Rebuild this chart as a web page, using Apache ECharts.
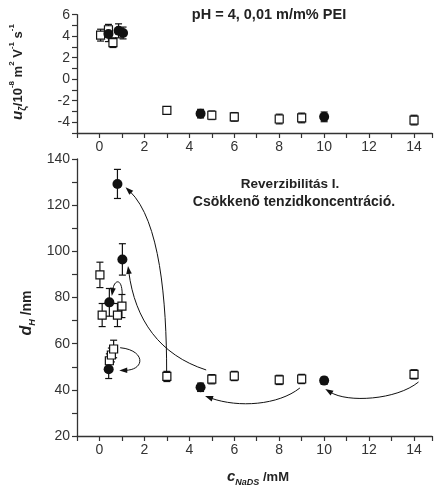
<!DOCTYPE html>
<html><head><meta charset="utf-8">
<script src="https://cdn.jsdelivr.net/npm/echarts@6/dist/echarts.min.js"></script>
<style>html,body{margin:0;padding:0;background:#fff}#c{width:435px;height:487px}</style>
</head><body><div id="c"></div>
<script>
// ---- Top panel: electrophoretic mobility u_zeta (10^-8 m2 V-1 s-1)
const topSqX   = [0.05, 0.4, 0.6, 3, 5, 6, 8, 9, 14];
const topSqY   = [4.1, 4.6, 3.4, -2.9, -3.35, -3.5, -3.7, -3.6, -3.8];
const topSqErr = [0.55, 0.5, 0.45, 0.35, 0.4, 0.4, 0.45, 0.45, 0.45];
const topCiX   = [0.4, 0.85, 1.05, 4.5, 10];
const topCiY   = [4.2, 4.5, 4.3, -3.2, -3.5];
const topCiErr = [0.7, 0.65, 0.55, 0.4, 0.45];
// ---- Bottom panel: hydrodynamic diameter d_H (nm)
const botSqX   = [0.02, 0.12, 0.44, 0.53, 0.63, 0.8, 1.0, 3, 5, 6, 8, 9, 14];
const botSqY   = [89.8, 72.4, 52.6, 55.1, 57.7, 72.4, 76.3, 45.8, 44.6, 46.0, 44.3, 44.7, 46.7];
const botSqErr = [5.5, 5, 3, 3, 3.8, 5, 5, 2.2, 2, 2, 2, 2, 2];
const botCiX   = [0.41, 0.44, 0.8, 1.02, 4.5, 10];
const botCiY   = [48.9, 77.9, 129.2, 96.5, 41.1, 44.0];
const botCiErr = [4, 6, 6.3, 6.8, 1.8, 1.5];
// ---- Arrows (cubic curves in data units: start, control1, control2, end)
const arrows = [
  [[2.99, 47.5], [2.99, 78.9], [2.68, 113.6], [1.16, 127.8]],
  [[4.75, 48.6], [2.68, 55.1], [1.58, 70.3], [1.27, 93.7]],
  [[1.01, 81.5], [1.01, 88.5], [0.66, 88.0], [0.55, 80.7]],
  [[0.92, 58.25], [2.05, 57.2], [2.05, 48.6], [0.88, 48.4]],
  [[8.92, 40.8], [7.96, 33.4], [6.2, 32.1], [4.70, 37.3]],
  [[14.2, 43.4], [13.23, 35.6], [11.03, 34.3], [10.05, 40.4]]
];
// ---- Axis settings
const xMin = -1, xMax = 14.8;
const topYMin = -5, topYMax = 6;
const botYMin = 20, botYMax = 140;

const FONT = '"Liberation Sans", Arial, sans-serif';
const AX = '#333';
const chart = echarts.init(document.getElementById('c'));

function evenFmt(step) {
  return v => (Math.abs(v % step) < 1e-9 && Math.abs(v - Math.round(v)) < 1e-9) ? String(v) : '';
}
function xAxisDef(gi) {
  return {
    type: 'value', gridIndex: gi, min: xMin, max: xMax, interval: 1,
    axisLine: {onZero: false, lineStyle: {color: AX, width: 1.3}},
    axisTick: {length: 5, lineStyle: {color: AX, width: 1.2}},
    axisLabel: {formatter: evenFmt(2), fontSize: 14, color: '#333', fontFamily: FONT, margin: 7},
    splitLine: {show: false}
  };
}
function yAxisDef(gi, mn, mx, itv, step) {
  return {
    type: 'value', gridIndex: gi, min: mn, max: mx, interval: itv,
    axisLine: {show: true, onZero: false, lineStyle: {color: AX, width: 1.3}},
    axisTick: {show: true, length: 5, lineStyle: {color: AX, width: 1.2}},
    axisLabel: {formatter: evenFmt(step), fontSize: 14, color: '#333', fontFamily: FONT, margin: 7},
    splitLine: {show: false}
  };
}
function zip3(a, b, c) { return a.map((v, i) => [v, b[i], c[i]]); }
function errSeries(xi, data) {
  return {
    type: 'custom', xAxisIndex: xi, yAxisIndex: xi, z: 2, silent: true,
    data: data,
    renderItem: function (params, api) {
      const x = api.value(0), y = api.value(1), e = api.value(2);
      const t = api.coord([x, y + e]), b = api.coord([x, y - e]);
      const w = 3.5, st = {stroke: '#111', lineWidth: 1.2};
      return {type: 'group', children: [
        {type: 'line', shape: {x1: t[0], y1: t[1], x2: b[0], y2: b[1]}, style: st},
        {type: 'line', shape: {x1: t[0] - w, y1: t[1], x2: t[0] + w, y2: t[1]}, style: st},
        {type: 'line', shape: {x1: b[0] - w, y1: b[1], x2: b[0] + w, y2: b[1]}, style: st}
      ]};
    }
  };
}
function sqSeries(xi, xs, ys) {
  return {type: 'scatter', xAxisIndex: xi, yAxisIndex: xi, z: 5, symbol: 'rect', symbolSize: 8,
    itemStyle: {color: '#fff', borderColor: '#111', borderWidth: 1.2, opacity: 1},
    data: xs.map((v, i) => [v, ys[i]])};
}
function ciSeries(xi, xs, ys) {
  return {type: 'scatter', xAxisIndex: xi, yAxisIndex: xi, z: 6, symbol: 'circle', symbolSize: 10,
    itemStyle: {color: '#111', opacity: 1},
    data: xs.map((v, i) => [v, ys[i]])};
}
const arrowSeries = {
  type: 'custom', xAxisIndex: 1, yAxisIndex: 1, z: 4, silent: true,
  data: arrows.map(a => a[3]),
  renderItem: function (params, api) {
    const c = arrows[params.dataIndex].map(p => api.coord(p));
    const p2 = c[2], p3 = c[3];
    let dx = p3[0] - p2[0], dy = p3[1] - p2[1];
    const L = Math.hypot(dx, dy) || 1; dx /= L; dy /= L;
    const len = 8, hw = 2.8;
    const bx = p3[0] - dx * len, by = p3[1] - dy * len;
    return {type: 'group', children: [
      {type: 'bezierCurve', shape: {x1: c[0][0], y1: c[0][1], cpx1: c[1][0], cpy1: c[1][1],
        cpx2: c[2][0], cpy2: c[2][1], x2: bx + dx * 2, y2: by + dy * 2},
        style: {stroke: '#111', lineWidth: 1, fill: null}},
      {type: 'polygon', shape: {points: [[p3[0], p3[1]], [bx - dy * hw, by + dx * hw], [bx + dy * hw, by - dx * hw]]},
        style: {fill: '#111'}}
    ]};
  }
};

chart.setOption({
  animation: false,
  backgroundColor: '#fff',
  textStyle: {fontFamily: FONT},
  grid: [
    {left: 77, top: 14.7, width: 358, height: 118.3},
    {left: 77, top: 159, width: 358, height: 277}
  ],
  xAxis: [xAxisDef(0), xAxisDef(1)],
  yAxis: [yAxisDef(0, topYMin, topYMax, 1, 2), yAxisDef(1, botYMin, botYMax, 10, 20)],
  series: [
    errSeries(0, zip3(topSqX, topSqY, topSqErr)),
    errSeries(0, zip3(topCiX, topCiY, topCiErr)),
    sqSeries(0, topSqX, topSqY),
    ciSeries(0, topCiX, topCiY),
    errSeries(1, zip3(botSqX, botSqY, botSqErr)),
    errSeries(1, zip3(botCiX, botCiY, botCiErr)),
    arrowSeries,
    sqSeries(1, botSqX, botSqY),
    ciSeries(1, botCiX, botCiY)
  ],
  graphic: [
    {type: 'text', x: 269, y: 14.7, style: {text: 'pH = 4, 0,01 m/m% PEI', font: 'bold 14.5px ' + FONT, fill: '#222', align: 'center', verticalAlign: 'middle'}},
    {type: 'text', x: 290, y: 184, style: {text: 'Reverzibilitás I.', font: 'bold 13.5px ' + FONT, fill: '#222', align: 'center', verticalAlign: 'middle'}},
    {type: 'text', x: 294, y: 202.5, style: {text: 'Csökkenõ tenzidkoncentráció.', font: 'bold 14px ' + FONT, fill: '#222', align: 'center', verticalAlign: 'middle'}},
    {type: 'text', x: 18, y: 72, rotation: Math.PI / 2, style: {
      text: '{i|u}{sub|ζ}{n|/10}{sup|-8}{n| m}{sup|2}{n| V}{sup|-1}{n| s}{sup|-1}',
      align: 'center', verticalAlign: 'middle', fill: '#222',
      rich: {
        i: {font: 'bold italic 15px ' + FONT, lineHeight: 20, fill: '#222'},
        n: {font: 'bold 13px ' + FONT, lineHeight: 20, fill: '#222'},
        sup: {font: 'bold 8px ' + FONT, lineHeight: 20, verticalAlign: 'top', fill: '#222'},
        sub: {font: 'bold 10px ' + FONT, lineHeight: 20, verticalAlign: 'bottom', fill: '#222'}
      }}},
    {type: 'text', x: 27, y: 313, rotation: Math.PI / 2, style: {
      text: '{i|d}{sub|H}{n| /nm}',
      align: 'center', verticalAlign: 'middle', fill: '#222',
      rich: {
        i: {font: 'bold italic 16px ' + FONT, lineHeight: 20, fill: '#222'},
        n: {font: 'bold 14px ' + FONT, lineHeight: 20, fill: '#222'},
        sub: {font: 'bold italic 9px ' + FONT, lineHeight: 20, verticalAlign: 'bottom', fill: '#222'}
      }}},
    {type: 'text', x: 258, y: 477, style: {
      text: '{i|c}{sub|NaDS}{n| /mM}',
      align: 'center', verticalAlign: 'middle', fill: '#222',
      rich: {
        i: {font: 'bold italic 15px ' + FONT, lineHeight: 20, fill: '#222'},
        n: {font: 'bold 13px ' + FONT, lineHeight: 20, fill: '#222'},
        sub: {font: 'bold italic 9px ' + FONT, lineHeight: 20, verticalAlign: 'bottom', fill: '#222'}
      }}}
  ]
});
</script></body></html>
